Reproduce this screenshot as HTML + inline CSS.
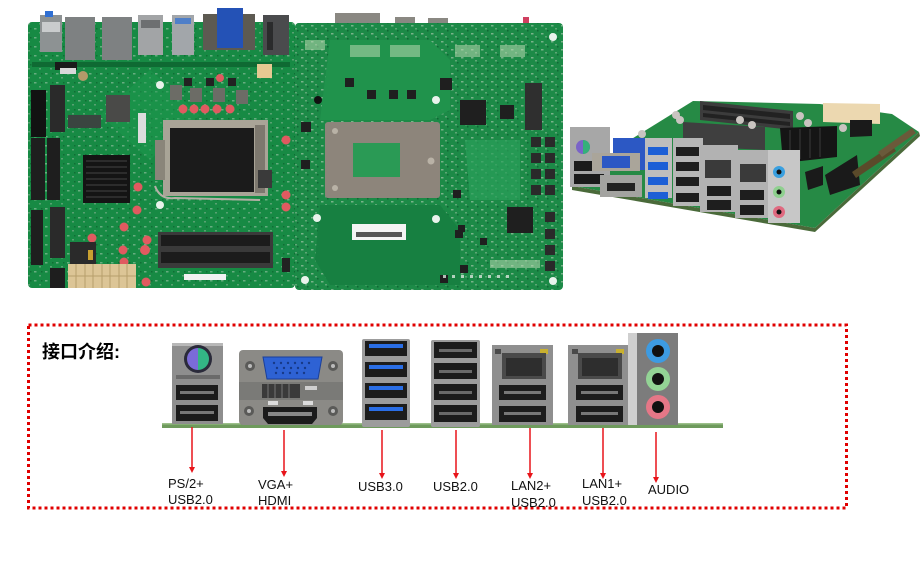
<!DOCTYPE html>
<html><head><meta charset="utf-8"><style>
html,body{margin:0;padding:0;background:#fff;}
svg{display:block;}
</style></head><body>
<svg width="921" height="581" viewBox="0 0 921 581" xmlns="http://www.w3.org/2000/svg">
<defs>
<pattern id="sp1" width="11" height="9" patternUnits="userSpaceOnUse">
<rect x="1" y="1" width="2.5" height="1.5" fill="#a9c9b0" opacity="0.55"/>
<rect x="6" y="5" width="2" height="1.5" fill="#9ab8a0" opacity="0.5"/>
<rect x="8" y="1" width="1.5" height="1.5" fill="#0c5a2c" opacity="0.6"/>
</pattern>
<pattern id="sp2" width="10" height="8" patternUnits="userSpaceOnUse">
<rect x="1" y="1" width="2.5" height="1.5" fill="#b5cfb8" opacity="0.6"/>
<rect x="5" y="4" width="2" height="1.5" fill="#a0bfa6" opacity="0.5"/>
<rect x="7" y="6" width="1.5" height="1.5" fill="#0a4f28" opacity="0.6"/>
</pattern>
</defs>
<rect width="921" height="581" fill="#fff"/>

<!-- ===== Board 1 (top view) ===== -->
<rect x="28" y="22" width="267" height="266" rx="4" fill="#178a44"/>
<rect x="28" y="22" width="267" height="266" rx="4" fill="url(#sp1)"/>
<polygon points="150,70 200,115 150,160 100,115" fill="#1e9a4e" opacity="0.5"/>
<rect x="32" y="62" width="258" height="5" fill="#0f6a33"/>
<!-- top connectors -->
<rect x="40" y="15" width="22" height="37" fill="#8d9293"/>
<rect x="45" y="11" width="8" height="6" fill="#2f6fd3"/>
<rect x="42" y="22" width="18" height="10" fill="#c9cccd"/>
<rect x="65" y="17" width="30" height="43" fill="#7e8182"/>
<rect x="102" y="17" width="30" height="43" fill="#7e8182"/>
<rect x="138" y="15" width="25" height="40" fill="#a2a4a6"/>
<rect x="141" y="20" width="19" height="8" fill="#6d6f71"/>
<rect x="172" y="15" width="22" height="40" fill="#a2a6aa"/>
<rect x="175" y="18" width="16" height="6" fill="#4f7fc8"/>
<rect x="203" y="14" width="52" height="36" fill="#5d5a52"/>
<rect x="217" y="8" width="26" height="40" fill="#2452b6"/>
<rect x="263" y="15" width="26" height="40" fill="#4a4b4d"/>
<rect x="267" y="22" width="6" height="28" fill="#2a2b2c"/>
<rect x="55" y="62" width="22" height="8" fill="#1a1a1a"/>
<rect x="60" y="68" width="16" height="6" fill="#d8d8d8"/>
<!-- power 4pin -->
<rect x="257" y="64" width="15" height="14" fill="#e6c992"/>
<!-- vrm blocks -->
<rect x="170" y="85" width="12" height="15" fill="#6c6c66"/>
<rect x="190" y="88" width="12" height="14" fill="#6c6c66"/>
<rect x="213" y="88" width="12" height="14" fill="#6c6c66"/>
<rect x="236" y="90" width="12" height="14" fill="#6c6c66"/>
<rect x="184" y="78" width="8" height="8" fill="#222"/>
<rect x="206" y="78" width="8" height="8" fill="#222"/>
<rect x="228" y="78" width="8" height="8" fill="#222"/>
<circle cx="83" cy="76" r="5" fill="#b49a6a"/>
<!-- caps -->
<g fill="#e05a60">
<circle cx="183" cy="109" r="4.5"/><circle cx="194" cy="109" r="4.5"/><circle cx="205" cy="109" r="4.5"/><circle cx="217" cy="109" r="4.5"/><circle cx="230" cy="109" r="4.5"/>
<circle cx="220" cy="78" r="4"/><circle cx="286" cy="140" r="4.5"/><circle cx="286" cy="195" r="4.5"/><circle cx="286" cy="207" r="4.5"/>
<circle cx="138" cy="187" r="4.5"/><circle cx="137" cy="210" r="4.5"/><circle cx="124" cy="227" r="4.5"/><circle cx="92" cy="238" r="4.5"/>
<circle cx="147" cy="240" r="4.5"/><circle cx="145" cy="250" r="5"/><circle cx="123" cy="250" r="4.5"/><circle cx="124" cy="262" r="4.5"/><circle cx="146" cy="282" r="4.5"/>
</g>
<!-- CPU socket -->
<rect x="163" y="120" width="105" height="76" fill="#a9a497"/>
<rect x="155" y="140" width="10" height="40" fill="#8a857a"/>
<rect x="170" y="128" width="84" height="64" fill="#1b1b1b"/>
<rect x="255" y="125" width="10" height="68" fill="#7d786e"/>
<path d="M155 186 Q160 200 175 198 L260 200" stroke="#b4b0a6" stroke-width="2" fill="none"/>
<!-- heatsink -->
<rect x="83" y="155" width="47" height="48" fill="#141414"/>
<g stroke="#3a3a3a" stroke-width="1.2">
<line x1="86" y1="161" x2="127" y2="161"/><line x1="86" y1="167" x2="127" y2="167"/><line x1="86" y1="173" x2="127" y2="173"/><line x1="86" y1="179" x2="127" y2="179"/><line x1="86" y1="185" x2="127" y2="185"/><line x1="86" y1="191" x2="127" y2="191"/><line x1="86" y1="197" x2="127" y2="197"/>
</g>
<!-- left slots/headers -->
<rect x="31" y="90" width="15" height="47" fill="#121212"/>
<rect x="50" y="85" width="15" height="47" fill="#2a2a2a"/>
<rect x="68" y="115" width="33" height="13" fill="#3a4540"/>
<rect x="106" y="95" width="24" height="27" fill="#4a4a48"/>
<rect x="138" y="113" width="8" height="30" fill="#dcdcdc"/>
<rect x="31" y="138" width="14" height="62" fill="#1e1e1e"/>
<rect x="47" y="138" width="13" height="62" fill="#1e1e1e"/>
<rect x="31" y="210" width="12" height="55" fill="#1e1e1e"/>
<rect x="50" y="207" width="15" height="51" fill="#2a2a2a"/>
<rect x="70" y="242" width="26" height="25" fill="#2a2a2a"/>
<rect x="88" y="250" width="5" height="10" fill="#c8a030"/>
<rect x="50" y="268" width="15" height="20" fill="#1e1e1e"/>
<!-- ATX -->
<rect x="68" y="264" width="68" height="24" fill="#dcc596"/>
<g stroke="#b69e6c" stroke-width="1"><line x1="68" y1="276" x2="136" y2="276"/><line x1="76" y1="264" x2="76" y2="288"/><line x1="85" y1="264" x2="85" y2="288"/><line x1="93" y1="264" x2="93" y2="288"/><line x1="102" y1="264" x2="102" y2="288"/><line x1="110" y1="264" x2="110" y2="288"/><line x1="119" y1="264" x2="119" y2="288"/><line x1="127" y1="264" x2="127" y2="288"/></g>
<!-- RAM -->
<rect x="158" y="232" width="115" height="36" fill="#3a3a3a"/>
<rect x="161" y="235" width="109" height="11" fill="#1c1c1c"/>
<rect x="161" y="252" width="109" height="11" fill="#1c1c1c"/>
<rect x="184" y="274" width="42" height="6" fill="#f2f2f2"/>
<rect x="258" y="170" width="14" height="18" fill="#3a3a3a"/>
<rect x="282" y="258" width="8" height="14" fill="#222"/>
<circle cx="160" cy="85" r="4" fill="#e8f2ea"/><circle cx="160" cy="205" r="4" fill="#e8f2ea"/>

<!-- ===== Board 2 (bottom view) ===== -->
<rect x="295" y="23" width="268" height="267" rx="4" fill="#1c8a47"/>
<rect x="295" y="23" width="268" height="267" rx="4" fill="url(#sp2)"/>
<path d="M330 40 L430 40 L450 60 L450 110 L430 120 L320 120 Z" fill="#20934c"/>
<path d="M320 205 L440 205 L460 230 L460 285 L330 285 L315 260 Z" fill="#178041"/>
<path d="M465 140 L520 140 L520 200 L470 200 Z" fill="#2aa05a" opacity="0.7"/>
<rect x="335" y="13" width="45" height="10" fill="#8a8882"/>
<rect x="395" y="17" width="20" height="6" fill="#8a8882"/>
<rect x="428" y="18" width="20" height="5" fill="#8a8882"/>
<rect x="523" y="17" width="6" height="6" fill="#d04060"/>
<!-- backplate -->
<rect x="325" y="122" width="115" height="76" rx="3" fill="#8d857b"/>
<rect x="353" y="143" width="47" height="34" fill="#2a9a55"/>
<circle cx="335" cy="131" r="3" fill="#b9b2a6"/><circle cx="335" cy="188" r="3" fill="#b9b2a6"/><circle cx="431" cy="161" r="3.5" fill="#b9b2a6"/>
<!-- holes -->
<g fill="#e9f3ec"><circle cx="436" cy="100" r="4"/><circle cx="436" cy="219" r="4"/><circle cx="317" cy="218" r="4"/><circle cx="553" cy="37" r="4"/><circle cx="553" cy="281" r="4"/><circle cx="305" cy="280" r="4"/></g>
<circle cx="318" cy="100" r="4" fill="#111"/>
<!-- label -->
<rect x="352" y="224" width="54" height="16" fill="#f4f4f4"/>
<rect x="356" y="232" width="46" height="5" fill="#555"/>
<!-- chips -->
<g fill="#1f1f1f">
<rect x="440" y="78" width="12" height="12"/>
<rect x="460" y="100" width="26" height="25"/>
<rect x="500" y="105" width="14" height="14"/>
<rect x="507" y="207" width="26" height="26"/>
<rect x="345" y="78" width="9" height="9"/><rect x="367" y="90" width="9" height="9"/><rect x="389" y="90" width="9" height="9"/><rect x="407" y="90" width="9" height="9"/>
<rect x="301" y="122" width="10" height="10"/><rect x="301" y="160" width="9" height="9"/>
<rect x="453" y="190" width="8" height="8"/><rect x="455" y="230" width="8" height="8"/><rect x="460" y="265" width="8" height="8"/><rect x="440" y="275" width="8" height="8"/>
<rect x="480" y="238" width="7" height="7"/><rect x="458" y="225" width="7" height="7"/>
</g>
<rect x="525" y="83" width="17" height="47" fill="#2f2f2f"/>
<g fill="#2a2a2a">
<rect x="531" y="137" width="10" height="10"/><rect x="545" y="137" width="10" height="10"/>
<rect x="531" y="153" width="10" height="10"/><rect x="545" y="153" width="10" height="10"/>
<rect x="531" y="169" width="10" height="10"/><rect x="545" y="169" width="10" height="10"/>
<rect x="531" y="185" width="10" height="10"/><rect x="545" y="185" width="10" height="10"/>
<rect x="545" y="212" width="10" height="10"/><rect x="545" y="229" width="10" height="10"/><rect x="545" y="245" width="10" height="10"/><rect x="545" y="261" width="10" height="10"/>
</g>
<g fill="#b8d8b0" opacity="0.55">
<rect x="305" y="40" width="20" height="10"/><rect x="350" y="45" width="30" height="12"/><rect x="390" y="45" width="30" height="12"/><rect x="455" y="45" width="25" height="12"/><rect x="500" y="45" width="25" height="12"/>
<rect x="490" y="260" width="50" height="8"/>
</g>
<g fill="#d9e6dc" opacity="0.8">
<rect x="443" y="275" width="3" height="3"/><rect x="452" y="275" width="3" height="3"/><rect x="461" y="275" width="3" height="3"/><rect x="470" y="275" width="3" height="3"/><rect x="479" y="275" width="3" height="3"/><rect x="488" y="275" width="3" height="3"/><rect x="497" y="275" width="3" height="3"/><rect x="506" y="275" width="3" height="3"/>
</g>

<!-- ===== Board 3 (3D view) ===== -->
<polygon points="572,186 815,228 919,132 892,114 820,104 693,101 630,140" fill="#268a45"/>
<polygon points="572,186 815,228 815,232 572,190" fill="#4a6a3a"/>
<polygon points="815,228 919,132 920,136 815,232" fill="#4a6a3a"/>
<polygon points="700,101 793,111 793,130 700,120" fill="#3c3c3c"/>
<polygon points="703,105 790,114 790,119 703,110" fill="#222"/>
<polygon points="703,113 790,122 790,126 703,117" fill="#222"/>
<polygon points="823,103 880,104 880,124 823,122" fill="#ecd8b0"/>
<polygon points="683,122 765,127 765,150 683,146" fill="#3f3f3f"/>
<polygon points="780,128 837,126 837,157 783,163" fill="#151515"/>
<g stroke="#3a3a3a" stroke-width="1"><line x1="790" y1="130" x2="790" y2="160"/><line x1="800" y1="129" x2="800" y2="159"/><line x1="810" y1="129" x2="810" y2="158"/><line x1="820" y1="128" x2="820" y2="157"/></g>
<polygon points="825,175 857,155 860,185 830,195" fill="#1a1a1a"/>
<polygon points="852,172 892,145 896,151 856,178" fill="#5a4a2a"/>
<polygon points="878,152 912,128 916,133 882,157" fill="#6a5a3a"/>
<polygon points="850,120 872,120 872,136 850,137" fill="#1a1a1a"/>
<polygon points="805,172 823,166 823,185 808,190" fill="#1a1a1a"/>
<g fill="#c9c4c0"><circle cx="676" cy="115" r="4"/><circle cx="680" cy="120" r="4"/><circle cx="800" cy="116" r="4"/><circle cx="808" cy="123" r="4"/><circle cx="843" cy="128" r="4"/><circle cx="740" cy="120" r="4"/><circle cx="752" cy="125" r="4"/><circle cx="642" cy="134" r="4"/></g>
<!-- IO -->
<rect x="570" y="127" width="40" height="60" fill="#a7a7a7"/>
<circle cx="583" cy="147" r="7" fill="#7a64c8"/>
<path d="M583 140 A7 7 0 0 1 583 154 Z" fill="#35b07a"/>
<rect x="574" y="161" width="30" height="10" fill="#1a1a1a"/>
<rect x="574" y="174" width="30" height="10" fill="#1a1a1a"/>
<rect x="613" y="138" width="34" height="32" fill="#2c58c4"/>
<rect x="592" y="153" width="48" height="18" fill="#aaa59a"/>
<rect x="602" y="156" width="28" height="12" fill="#2c58c4"/>
<rect x="600" y="175" width="42" height="22" fill="#a3a3a0"/>
<rect x="607" y="183" width="28" height="8" fill="#222"/>
<rect x="645" y="138" width="27" height="60" fill="#bdbdbd"/>
<g fill="#1c5fd6"><rect x="648" y="147" width="20" height="8"/><rect x="648" y="162" width="20" height="8"/><rect x="648" y="177" width="20" height="8"/><rect x="648" y="192" width="20" height="7"/></g>
<rect x="673" y="138" width="30" height="68" fill="#b6b6b6"/>
<g fill="#1e1e1e"><rect x="676" y="147" width="23" height="9"/><rect x="676" y="162" width="23" height="9"/><rect x="676" y="177" width="23" height="9"/><rect x="676" y="193" width="23" height="9"/></g>
<rect x="700" y="145" width="38" height="67" fill="#b2b2b2"/>
<rect x="705" y="160" width="26" height="18" fill="#3a3a3a"/>
<rect x="707" y="186" width="24" height="10" fill="#1e1e1e"/><rect x="707" y="200" width="24" height="10" fill="#1e1e1e"/>
<rect x="735" y="150" width="36" height="68" fill="#b2b2b2"/>
<rect x="740" y="164" width="26" height="18" fill="#3a3a3a"/>
<rect x="740" y="190" width="24" height="10" fill="#1e1e1e"/><rect x="740" y="205" width="24" height="10" fill="#1e1e1e"/>
<rect x="768" y="150" width="32" height="73" fill="#c7c7c7"/>
<circle cx="779" cy="172" r="6" fill="#3aa0e0"/><circle cx="779" cy="172" r="2.5" fill="#111"/>
<circle cx="779" cy="192" r="6" fill="#8fd08f"/><circle cx="779" cy="192" r="2.5" fill="#111"/>
<circle cx="779" cy="212" r="6" fill="#e06a80"/><circle cx="779" cy="212" r="2.5" fill="#111"/>

<!-- ===== Dotted frame ===== -->
<rect x="28.5" y="325" width="818" height="183" fill="none" stroke="#e00000" stroke-width="3" stroke-dasharray="3 3"/>

<text x="42" y="358" font-family="'Liberation Sans','Noto Sans CJK SC',sans-serif" font-size="18" font-weight="bold" fill="#000">接口介绍:</text>

<!-- pcb strip -->
<rect x="162" y="423" width="561" height="5" fill="#6e9a5c"/>
<rect x="162" y="423" width="561" height="1.5" fill="#9cc08a"/>

<!-- PS2 + USB -->
<rect x="172" y="343" width="51" height="81" fill="#8e8e8e"/>
<rect x="172" y="343" width="51" height="3" fill="#b8b8b8"/>
<circle cx="198" cy="359" r="14" fill="#2a2a3a"/>
<path d="M198 348 A11 11 0 0 0 198 370 Z" fill="#7b6bd8"/>
<path d="M198 348 A11 11 0 0 1 198 370 Z" fill="#33b585"/>
<rect x="176" y="375" width="44" height="4" fill="#6a6a6a"/>
<rect x="176" y="385" width="42" height="15" fill="#1b1b1b"/>
<rect x="180" y="391" width="34" height="3" fill="#777"/>
<rect x="176" y="405" width="42" height="16" fill="#1b1b1b"/>
<rect x="180" y="411" width="34" height="3" fill="#777"/>

<!-- VGA + HDMI -->
<rect x="239" y="350" width="104" height="75" rx="4" fill="#8b8a86"/>
<circle cx="250" cy="366" r="5" fill="#5a5a58"/><circle cx="250" cy="366" r="2" fill="#bbb"/>
<circle cx="333" cy="366" r="5" fill="#5a5a58"/><circle cx="333" cy="366" r="2" fill="#bbb"/>
<path d="M263 357 L322 357 L318 379 L267 379 Z" fill="#2e62d4" stroke="#1a3f9a" stroke-width="1"/>
<g fill="#173a88">
<circle cx="274" cy="363" r="1.2"/><circle cx="281" cy="363" r="1.2"/><circle cx="288" cy="363" r="1.2"/><circle cx="295" cy="363" r="1.2"/><circle cx="302" cy="363" r="1.2"/><circle cx="309" cy="363" r="1.2"/>
<circle cx="277" cy="368" r="1.2"/><circle cx="284" cy="368" r="1.2"/><circle cx="291" cy="368" r="1.2"/><circle cx="298" cy="368" r="1.2"/><circle cx="305" cy="368" r="1.2"/>
<circle cx="276" cy="373" r="1.2"/><circle cx="283" cy="373" r="1.2"/><circle cx="290" cy="373" r="1.2"/><circle cx="297" cy="373" r="1.2"/><circle cx="304" cy="373" r="1.2"/>
</g>
<rect x="239" y="382" width="104" height="18" fill="#7a7a77"/>
<rect x="262" y="384" width="38" height="14" fill="#3a3a3a"/>
<g stroke="#777" stroke-width="1"><line x1="268" y1="384" x2="268" y2="398"/><line x1="275" y1="384" x2="275" y2="398"/><line x1="282" y1="384" x2="282" y2="398"/><line x1="289" y1="384" x2="289" y2="398"/></g>
<rect x="305" y="386" width="12" height="4" fill="#cfcfcf"/>
<circle cx="249" cy="411" r="5" fill="#5a5a58"/><circle cx="249" cy="411" r="2" fill="#bbb"/>
<circle cx="333" cy="411" r="5" fill="#5a5a58"/><circle cx="333" cy="411" r="2" fill="#bbb"/>
<rect x="268" y="401" width="10" height="4" fill="#dcdcdc"/><rect x="303" y="401" width="10" height="4" fill="#dcdcdc"/>
<path d="M263 407 L317 407 L317 418 L312 424 L268 424 L263 418 Z" fill="#1b1b1b"/>
<rect x="268" y="412" width="44" height="4" fill="#888"/>

<!-- USB3.0 stack -->
<rect x="362" y="339" width="48" height="88" rx="2" fill="#9c9c9c"/>
<g>
<rect x="365" y="341" width="42" height="15" fill="#1c1c1c"/><rect x="369" y="344" width="34" height="4" fill="#2a6ee6"/>
<rect x="365" y="362" width="42" height="15" fill="#1c1c1c"/><rect x="369" y="365" width="34" height="4" fill="#2a6ee6"/>
<rect x="365" y="383" width="42" height="15" fill="#1c1c1c"/><rect x="369" y="386" width="34" height="4" fill="#2a6ee6"/>
<rect x="365" y="404" width="42" height="16" fill="#1c1c1c"/><rect x="369" y="407" width="34" height="4" fill="#2a6ee6"/>
</g>

<!-- USB2.0 stack -->
<rect x="431" y="340" width="49" height="87" rx="2" fill="#9c9c9c"/>
<g fill="#1c1c1c">
<rect x="434" y="342" width="43" height="16"/><rect x="434" y="363" width="43" height="16"/><rect x="434" y="384" width="43" height="16"/><rect x="434" y="405" width="43" height="17"/>
</g>
<g fill="#6a6a6a"><rect x="439" y="349" width="33" height="3"/><rect x="439" y="370" width="33" height="3"/><rect x="439" y="391" width="33" height="3"/><rect x="439" y="412" width="33" height="3"/></g>

<!-- LAN2 -->
<rect x="492" y="345" width="61" height="80" fill="#8f8f8f"/>
<rect x="495" y="349" width="6" height="5" fill="#4a4a4a"/><rect x="540" y="349" width="8" height="5" fill="#c8b030"/>
<rect x="502" y="353" width="44" height="26" fill="#4a4a4a"/>
<rect x="506" y="358" width="36" height="18" fill="#2e2e2e"/>
<rect x="499" y="385" width="47" height="15" fill="#1c1c1c"/><rect x="504" y="391" width="37" height="3" fill="#777"/>
<rect x="499" y="406" width="47" height="16" fill="#1c1c1c"/><rect x="504" y="412" width="37" height="3" fill="#777"/>

<!-- LAN1 -->
<rect x="568" y="345" width="62" height="80" fill="#8f8f8f"/>
<rect x="572" y="349" width="6" height="5" fill="#4a4a4a"/><rect x="616" y="349" width="8" height="5" fill="#c8b030"/>
<rect x="578" y="353" width="44" height="26" fill="#4a4a4a"/>
<rect x="582" y="358" width="36" height="18" fill="#2e2e2e"/>
<rect x="576" y="385" width="47" height="15" fill="#1c1c1c"/><rect x="581" y="391" width="37" height="3" fill="#777"/>
<rect x="576" y="406" width="47" height="16" fill="#1c1c1c"/><rect x="581" y="412" width="37" height="3" fill="#777"/>

<!-- AUDIO -->
<rect x="628" y="333" width="50" height="92" fill="#7c7c7c"/>
<rect x="628" y="333" width="9" height="92" fill="#cfcfcf"/>
<circle cx="658" cy="351" r="12" fill="#3d9be2"/><circle cx="658" cy="351" r="6" fill="#111"/>
<circle cx="658" cy="379" r="12" fill="#93d395"/><circle cx="658" cy="379" r="6" fill="#111"/>
<circle cx="658" cy="407" r="12" fill="#e57787"/><circle cx="658" cy="407" r="6" fill="#111"/>

<!-- arrows -->
<g stroke="#e8141a" stroke-width="1.5">
<line x1="192" y1="427" x2="192" y2="468"/>
<line x1="284" y1="430" x2="284" y2="472"/>
<line x1="382" y1="430" x2="382" y2="474"/>
<line x1="456" y1="430" x2="456" y2="474"/>
<line x1="530" y1="428" x2="530" y2="474"/>
<line x1="603" y1="428" x2="603" y2="474"/>
<line x1="656" y1="432" x2="656" y2="478"/>
</g>
<g fill="#e8141a">
<polygon points="189,467 195,467 192,473"/>
<polygon points="281,471 287,471 284,477"/>
<polygon points="379,473 385,473 382,479"/>
<polygon points="453,473 459,473 456,479"/>
<polygon points="527,473 533,473 530,479"/>
<polygon points="600,473 606,473 603,479"/>
<polygon points="653,477 659,477 656,483"/>
</g>

<!-- labels -->
<g font-family="'Liberation Sans','Noto Sans CJK SC',sans-serif" font-size="13" fill="#111">
<text x="168" y="488">PS/2+</text>
<text x="168" y="504">USB2.0</text>
<text x="258" y="489">VGA+</text>
<text x="258" y="505">HDMI</text>
<text x="358" y="491">USB3.0</text>
<text x="433" y="491">USB2.0</text>
<text x="511" y="490">LAN2+</text>
<text x="511" y="507">USB2.0</text>
<text x="582" y="488">LAN1+</text>
<text x="582" y="505">USB2.0</text>
<text x="648" y="494">AUDIO</text>
</g>
</svg>
</body></html>
